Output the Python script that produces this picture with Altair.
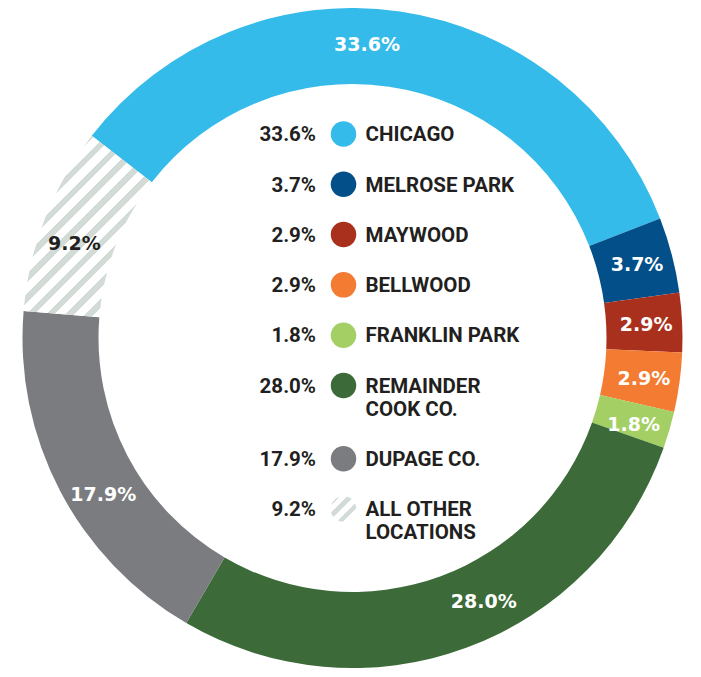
import math
import altair as alt
import pandas as pd

# ---------------- data ----------------
categories = ["CHICAGO", "MELROSE PARK", "MAYWOOD", "BELLWOOD", "FRANKLIN PARK",
              "REMAINDER\nCOOK CO.", "DUPAGE CO.", "ALL OTHER\nLOCATIONS"]
values = [33.6, 3.7, 2.9, 2.9, 1.8, 28.0, 17.9, 9.2]

# ---------------- style ----------------
colors = ["#35bbea", "#024f8a", "#aa301e", "#f47b32", "#a3cf64", "#3c6b39", "#7b7c80", "#ffffff"]
ring_label_colors = ["white"] * 7 + ["#231f20"]
label_frac = [0.455, 0.5, 0.5, 0.5, 0.62, 0.437, 0.43, 0.43]   # where in each slice its label sits

CX, CY = 344.5, 330.0
R_OUT, R_IN, R_LAB = 330, 254, 294
START_DEG = 307.8
DARK = "#231f20"
HATCH = "#d3dbd6"
EXTRA_LINE = 0.457  # extra row height of a second text line, in row units

rows = []
cum = 0.0
extra = 0
for i, (c, v, lc, f) in enumerate(zip(categories, values, ring_label_colors, label_frac)):
    start, end = cum, cum + v
    cum = end
    rows.append(dict(cat=c, value=v, start=start, end=end, mid=start + f * v,
                     pct=f"{v:.1f}%", lcolor=lc, row=i + EXTRA_LINE * extra))
    extra += c.count("\n")
df = pd.DataFrame(rows)
last_row = float(df["row"].max())

t0 = math.radians(START_DEG)
theta_scale = alt.Scale(domain=[0, 100], range=[t0, t0 + 2 * math.pi])
y_scale = alt.Scale(domain=[0, last_row], range=[126, 501])


def stripe_gradient(w, h, period, gray):
    k = (w + h) / (w * w + h * h)
    L = (w + h) / math.sqrt(2)
    stops = [{"offset": 0, "color": "white"}]
    pos = 2.0
    while pos < L:
        a = round(pos / L, 5)
        b = round(min((pos + gray) / L, 1.0), 5)
        stops += [{"offset": a, "color": "white"}, {"offset": a, "color": HATCH},
                  {"offset": b, "color": HATCH}, {"offset": b, "color": "white"}]
        pos += period
    stops.append({"offset": 1, "color": "white"})
    return {"gradient": "linear", "x1": 0, "y1": 0,
            "x2": round(k * w, 5), "y2": round(k * h, 5), "stops": stops}


# bounding box of the hatched slice, for a 45 degree stripe pattern
o = df.iloc[-1]
a0 = START_DEG + 3.6 * o["start"]
a1 = START_DEG + 3.6 * o["end"]
xs, ys = [], []
for j in range(401):
    a = math.radians(a0 + (a1 - a0) * j / 400)
    for r in (R_IN, R_OUT):
        xs.append(r * math.sin(a))
        ys.append(-r * math.cos(a))
arc_w, arc_h = max(xs) - min(xs), max(ys) - min(ys)
arc_grad = stripe_gradient(arc_w, arc_h, 14, 6)
sym_d = 25.5
sym_grad = stripe_gradient(sym_d, sym_d, 10, 4.5)

base = alt.Chart(df)
cx = alt.value(CX)
cy = alt.value(CY)

arcs = base.transform_filter(alt.datum.cat != categories[-1]).mark_arc(
    outerRadius=R_OUT, innerRadius=R_IN, stroke=None
).encode(
    theta=alt.Theta("start:Q", scale=theta_scale),
    theta2="end:Q",
    color=alt.Color("cat:N", scale=alt.Scale(domain=categories, range=colors), legend=None),
    x=cx, y=cy,
)

hatch_arc = base.transform_filter(alt.datum.cat == categories[-1]).mark_arc(
    outerRadius=R_OUT, innerRadius=R_IN, fill=arc_grad
).encode(
    theta=alt.Theta("start:Q", scale=theta_scale),
    theta2="end:Q",
    x=cx, y=cy,
)

ring_labels = base.mark_text(
    radius=R_LAB, font="DejaVu Sans", fontSize=19, fontWeight="bold",
    align="center", baseline="alphabetic", dy=7
).encode(
    theta=alt.Theta("mid:Q", scale=theta_scale),
    text="pct:N",
    color=alt.Color("lcolor:N", scale=None),
    x=cx, y=cy,
)

leg_y = alt.Y("row:Q", scale=y_scale, axis=None)

leg_pct = base.mark_text(
    font="Roboto", fontSize=20.5, fontWeight="bold", color=DARK,
    align="right", baseline="alphabetic", dy=7.3
).encode(x=alt.value(308), y=leg_y, text="pct:N")

leg_dot = base.transform_filter(alt.datum.cat != categories[-1]).mark_point(
    shape="circle", filled=True, size=sym_d ** 2, opacity=1
).encode(
    x=alt.value(335.5), y=leg_y,
    color=alt.Color("cat:N", scale=alt.Scale(domain=categories, range=colors), legend=None),
)

leg_hatch = base.transform_filter(alt.datum.cat == categories[-1]).mark_point(
    shape="circle", filled=True, size=sym_d ** 2, opacity=1, fill=sym_grad
).encode(x=alt.value(335.5), y=leg_y)

leg_name = base.mark_text(
    font="Roboto", fontSize=20.5, fontWeight="bold", color=DARK,
    align="left", baseline="alphabetic", dy=7.3, lineBreak="\n", lineHeight=23
).encode(x=alt.value(357.5), y=leg_y, text="cat:N")

chart = alt.layer(
    arcs, hatch_arc, ring_labels, leg_pct, leg_dot, leg_hatch, leg_name
).properties(
    width=685, height=661, autosize="none", padding=0
).configure_view(stroke=None)

chart.save("out.html", embed_options={"renderer": "svg", "actions": False})
